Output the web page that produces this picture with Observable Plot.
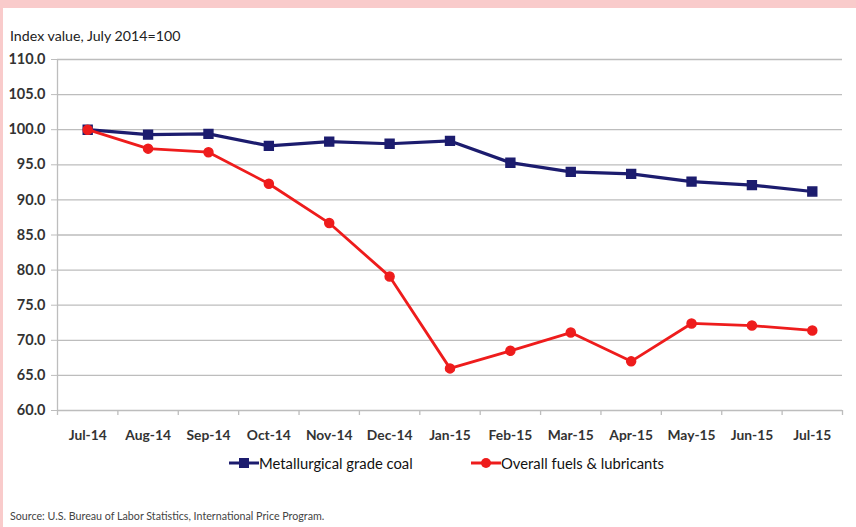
<!DOCTYPE html>
<html>
<head>
<meta charset="utf-8">
<script src="https://cdn.jsdelivr.net/npm/d3@7"></script>
<script src="https://cdn.jsdelivr.net/npm/@observablehq/plot@0.6"></script>
<style>
  html, body { margin: 0; padding: 0; }
  body { width: 856px; height: 527px; background: #f9cbcb; position: relative; overflow: hidden;
         font-family: Lato, "Liberation Sans Narrow", sans-serif; }
  #panel { position: absolute; left: 3px; top: 8px; width: 853px; height: 519px; background: #fff; }
  #ytitle { position: absolute; left: 10px; top: 27px; font-size: 14.2px; color: #222; }
  #chart { position: absolute; left: 0; top: 0; }
  #legend { position: absolute; top: 453px; left: 0; width: 856px; font-size: 14.8px; color: #111; }
  .item { position: absolute; display: flex; align-items: center; }
  #source { position: absolute; left: 10px; top: 509px; font-size: 10.7px; color: #444; }
</style>
</head>
<body>
<div id="panel"></div>
<div id="ytitle">Index value, July 2014=100</div>
<div id="chart"></div>
<div id="legend"></div>
<div id="source">Source: U.S. Bureau of Labor Statistics, International Price Program.</div>
<script>
const months = ["Jul-14","Aug-14","Sep-14","Oct-14","Nov-14","Dec-14","Jan-15","Feb-15","Mar-15","Apr-15","May-15","Jun-15","Jul-15"];
const coal = [100.0, 99.3, 99.4, 97.7, 98.3, 98.0, 98.4, 95.3, 94.0, 93.7, 92.6, 92.1, 91.2];
const fuels = [100.0, 97.3, 96.8, 92.3, 86.7, 79.1, 66.0, 68.5, 71.1, 67.0, 72.4, 72.1, 71.4];
const yTicks = [60, 65, 70, 75, 80, 85, 90, 95, 100, 105, 110];
const seriesNames = ["Metallurgical grade coal", "Overall fuels & lubricants"];
const colors = ["#1c1c6e", "#ee1c1c"];

const coalData = months.map((m, i) => ({month: m, value: coal[i]}));
const fuelData = months.map((m, i) => ({month: m, value: fuels[i]}));

const W = 856, H = 450, mL = 57, mR = 14, mT = 59, mB = 40;
const step = (W - mL - mR) / months.length;
const font = 'Lato, "Liberation Sans Narrow", sans-serif';
const first = months[0], last = months[months.length - 1];

const chart = Plot.plot({
  width: W, height: H,
  marginLeft: mL, marginRight: mR, marginTop: mT, marginBottom: mB,
  style: {background: "transparent", fontFamily: font, overflow: "visible"},
  x: {type: "point", domain: months, padding: 0.5, round: false, label: null},
  y: {domain: [60, 110], label: null},
  marks: [
    Plot.ruleY(yTicks, {y: d => d, x1: () => first, x2: () => last, insetLeft: -step/2, insetRight: -step/2, stroke: "#bdbdbd", strokeWidth: 1.3}),
    Plot.ruleX([first], {x: d => d, y1: 60, y2: 110, dx: -step/2, stroke: "#bdbdbd", strokeWidth: 1.3}),
    Plot.ruleX(months, {x: d => d, y1: 60, y2: 60, dx: -step/2, insetBottom: -5, stroke: "#bdbdbd", strokeWidth: 1.3}),
    Plot.ruleX([last], {x: d => d, y1: 60, y2: 60, dx: step/2, insetBottom: -5, stroke: "#bdbdbd", strokeWidth: 1.3}),
    Plot.axisY({ticks: yTicks, tickFormat: d3.format(".1f"), tickSize: 6, tickPadding: 6, stroke: "#bdbdbd",
                fontSize: 14.5, fontWeight: "bold", fill: "#333"}),
    Plot.axisX({tickSize: 0, tickPadding: 20, fontSize: 13.8, fontWeight: "bold", fill: "#333"}),
    Plot.line(coalData, {x: "month", y: "value", stroke: colors[0], strokeWidth: 3.2}),
    Plot.dot(coalData, {x: "month", y: "value", symbol: "square", r: 5, fill: colors[0], stroke: colors[0]}),
    Plot.line(fuelData, {x: "month", y: "value", stroke: colors[1], strokeWidth: 2.8}),
    Plot.dot(fuelData, {x: "month", y: "value", symbol: "circle", r: 4.5, fill: colors[1], stroke: colors[1]})
  ]
});
document.getElementById("chart").appendChild(chart);

// legend
const legend = document.getElementById("legend");
const legendX = [229, 471];
seriesNames.forEach((name, i) => {
  const item = document.createElement("div");
  item.className = "item";
  item.style.left = legendX[i] + "px";
  const sw = i === 0
    ? `<svg width="30" height="20"><line x1="0" y1="10" x2="30" y2="10" stroke="${colors[i]}" stroke-width="3"/><rect x="10" y="5" width="10" height="10" fill="${colors[i]}"/></svg>`
    : `<svg width="30" height="20"><line x1="0" y1="10" x2="30" y2="10" stroke="${colors[i]}" stroke-width="3"/><circle cx="15" cy="10" r="5" fill="${colors[i]}"/></svg>`;
  item.innerHTML = sw + `<span style="margin-left:0px">${name}</span>`;
  legend.appendChild(item);
});
</script>
</body>
</html>
